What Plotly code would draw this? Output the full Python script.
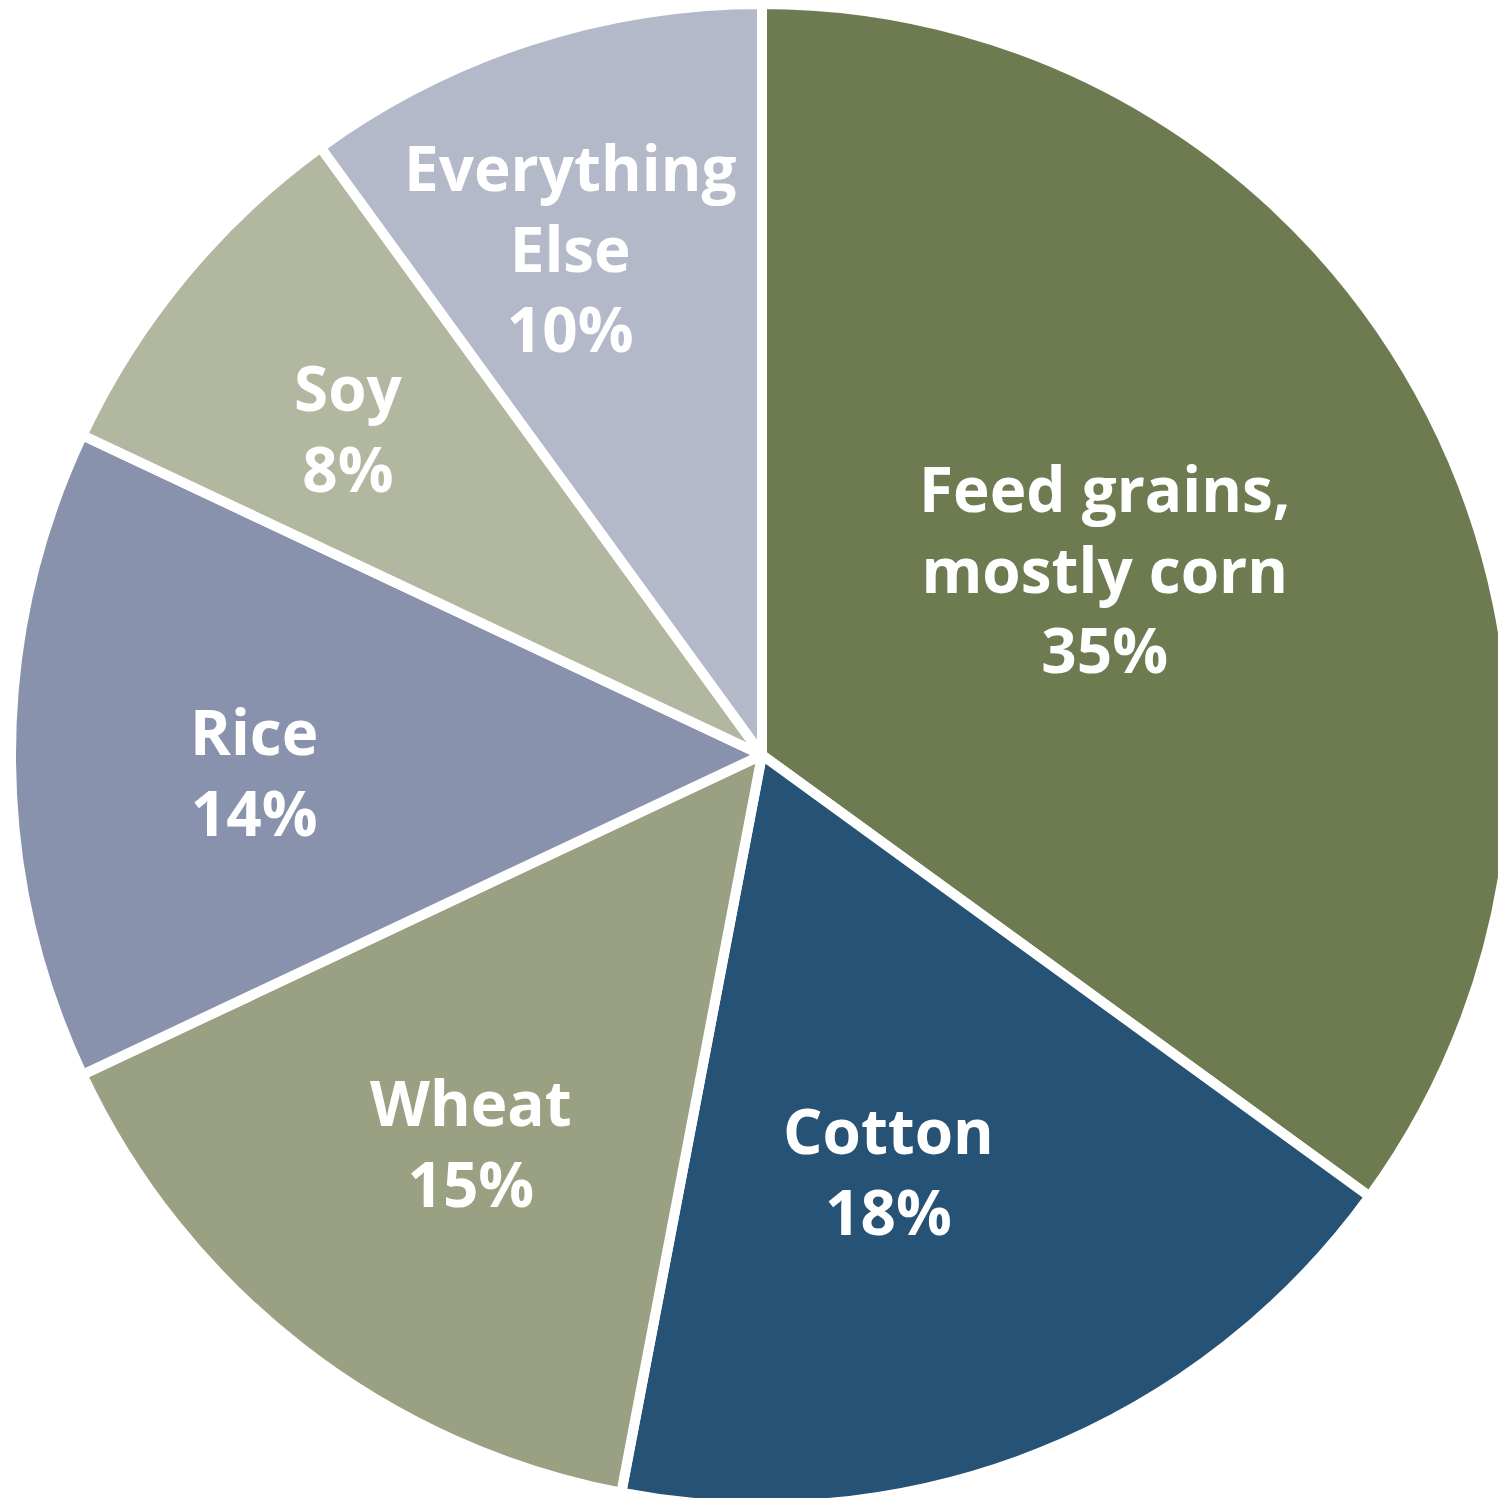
import math
import plotly.graph_objects as go

# Share of crop subsidy payments by commodity
categories = ["Feed grains,<br>mostly corn", "Cotton", "Wheat", "Rice", "Soy", "Everything<br>Else"]
shares = [35, 18, 15, 14, 8, 10]
colors = ["#6e7b51", "#265275", "#9aa082", "#8892ac", "#b2b79f", "#b4b9c9"]

# Label placement: fraction of the radius and a small angular nudge (degrees)
label_radius = [0.52, 0.578, 0.646, 0.677, 0.703, 0.722]
label_nudge = [-1.6, 4.7, -0.9, -1.9, -1.2, -2.7]

W, H = 1513, 1506
ML, MT = 11, 4
SIDE = 1502

fig = go.Figure(
    go.Pie(
        labels=categories,
        values=shares,
        sort=False,
        direction="clockwise",
        rotation=0,
        marker=dict(colors=colors, line=dict(color="white", width=10)),
        textinfo="none",
        hoverinfo="label+percent",
        showlegend=False,
        domain=dict(x=[0, 1], y=[0, 1]),
    )
)

total = sum(shares)
cum = 0
annotations = []
for name, v, r, nudge in zip(categories, shares, label_radius, label_nudge):
    mid = (cum + v / 2) / total * 360 + nudge
    cum += v
    theta = math.radians(mid)
    x = 0.5 + 0.5 * r * math.sin(theta)
    y = 0.5 + 0.5 * r * math.cos(theta)
    annotations.append(
        dict(
            x=x, y=y, xref="paper", yref="paper",
            text=f"{name}<br>{v}%",
            showarrow=False,
            xanchor="center", yanchor="middle", align="center",
            font=dict(family="Open Sans", size=62, color="white", weight="bold"),
        )
    )

fig.update_layout(
    width=W,
    height=H,
    margin=dict(l=ML, r=W - ML - SIDE, t=MT, b=H - MT - SIDE, pad=0),
    paper_bgcolor="white",
    plot_bgcolor="white",
    annotations=annotations,
)

fig.write_html(
    "out.html",
    config={"displayModeBar": False},
    post_script="document.body.style.margin='0';document.body.style.overflow='hidden';",
)
